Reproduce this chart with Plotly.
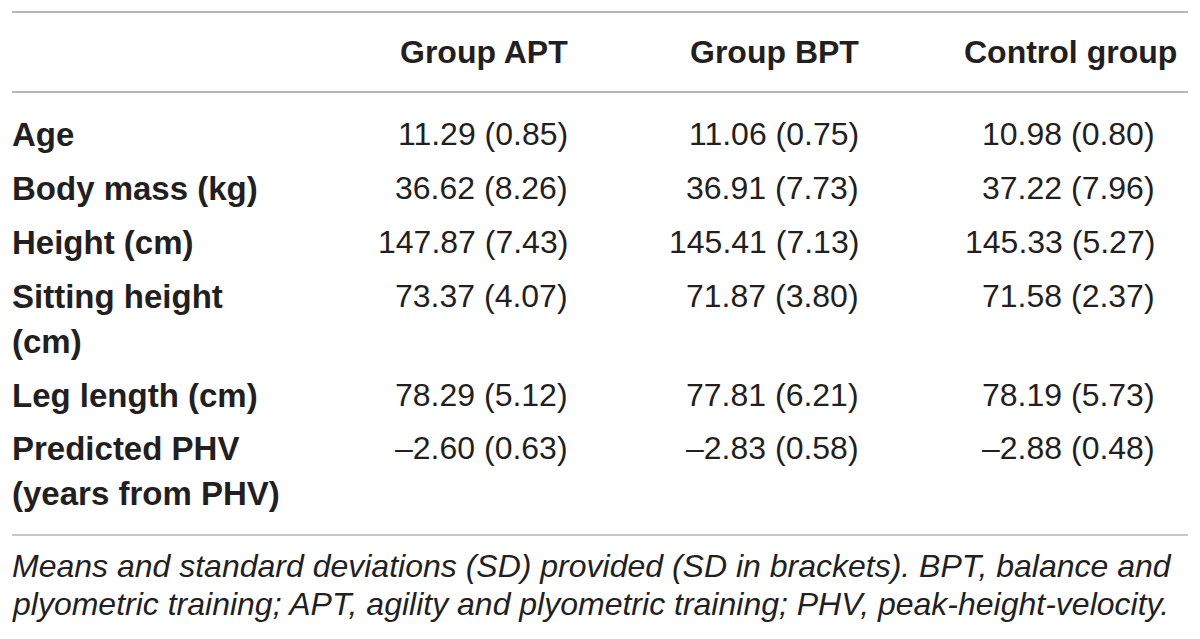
import plotly.graph_objects as go

# table contents
groups = ["Group APT", "Group BPT", "Control group"]
rows = ["Age", "Body mass (kg)", "Height (cm)", "Sitting height<br>(cm)",
        "Leg length (cm)", "Predicted PHV<br>(years from PHV)"]
apt_mean = [11.29, 36.62, 147.87, 73.37, 78.29, -2.60]
apt_sd = [0.85, 8.26, 7.43, 4.07, 5.12, 0.63]
bpt_mean = [11.06, 36.91, 145.41, 71.87, 77.81, -2.83]
bpt_sd = [0.75, 7.73, 7.13, 3.80, 6.21, 0.58]
ctl_mean = [10.98, 37.22, 145.33, 71.58, 78.19, -2.88]
ctl_sd = [0.80, 7.96, 5.27, 2.37, 5.73, 0.48]
footnote = ["Means and standard deviations (SD) provided (SD in brackets). BPT, balance and",
            "plyometric training; APT, agility and plyometric training; PHV, peak-height-velocity."]

# layout (page pixels); the page body has an 8px margin
W, H = 1200, 639
PAD = 8
col_right = [570, 861, 1179]
val_right = [570, 861, 1157]
label_x = 10
header_y = 52
row_y = [134, 188, 242, 296, 395, 448]
line_gap = 45
foot_y = [566, 604]
TXT = "#231f20"
FONT = "Liberation Sans"
FS = 32


def fmt(m, s):
    t = "%.2f (%.2f)" % (abs(m), s)
    return ("\u2013" + t) if m < 0 else t


fig = go.Figure()
ann = []

for g, xr in zip(groups, col_right):
    ann.append(dict(x=xr, y=header_y, text="<b>%s</b>" % g, xanchor="right", yanchor="middle",
                    font=dict(family=FONT, size=FS, color=TXT)))

for i, lab in enumerate(rows):
    for j, part in enumerate(lab.split("<br>")):
        ann.append(dict(x=label_x, y=row_y[i] + j * line_gap, text="<b>%s</b>" % part,
                        xanchor="left", yanchor="middle",
                        font=dict(family=FONT, size=33, color=TXT)))

for means, sds, xr in [(apt_mean, apt_sd, val_right[0]), (bpt_mean, bpt_sd, val_right[1]),
                       (ctl_mean, ctl_sd, val_right[2])]:
    for i in range(len(rows)):
        ann.append(dict(x=xr, y=row_y[i], text=fmt(means[i], sds[i]), xanchor="right",
                        yanchor="middle", font=dict(family=FONT, size=FS, color=TXT)))

for k, line in enumerate(footnote):
    ann.append(dict(x=label_x, y=foot_y[k], text="<i>%s</i>" % line, xanchor="left",
                    yanchor="middle", font=dict(family=FONT, size=32, color=TXT)))

for a in ann:
    a.update(xref="x", yref="y", showarrow=False)

shapes = [
    dict(type="line", x0=12, x1=1188, y0=12, y1=12, line=dict(color="#b5b5b5", width=2)),
    dict(type="line", x0=12, x1=1188, y0=92, y1=92, line=dict(color="#b5b5b5", width=2)),
    dict(type="line", x0=12, x1=1188, y0=535, y1=535, line=dict(color="#b5b5b5", width=1.5)),
]
for s in shapes:
    s.update(xref="x", yref="y", layer="below")

fig.update_layout(
    width=W - 2 * PAD, height=H - 2 * PAD, margin=dict(l=0, r=0, t=0, b=0),
    paper_bgcolor="white", plot_bgcolor="white",
    xaxis=dict(range=[PAD, W - PAD], visible=False, fixedrange=True),
    yaxis=dict(range=[H - PAD, PAD], visible=False, fixedrange=True),
    annotations=ann, shapes=shapes, showlegend=False,
)

fig.write_html("out.html")
